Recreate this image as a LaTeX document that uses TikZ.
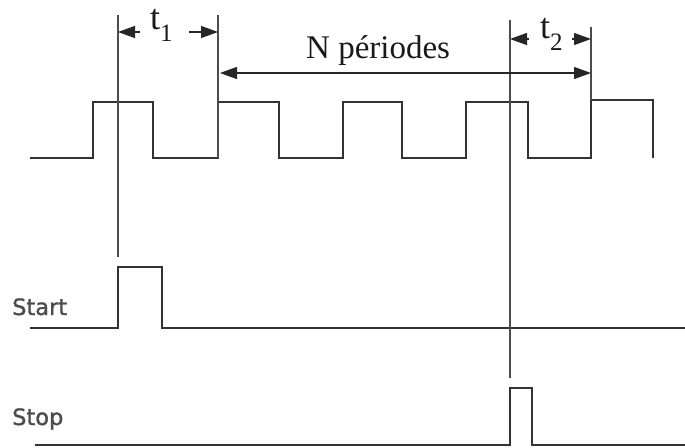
\documentclass[tikz,border=0pt]{standalone}
\usepackage{fontspec}
\setmainfont{Liberation Serif}
\newfontfamily\labfont[FakeBold=1.2]{DejaVu Sans}
\usetikzlibrary{arrows.meta}
\begin{document}
\begin{tikzpicture}[x=1pt,y=-1pt,
  sig/.style={draw=black!80, line width=1.4pt, line join=miter},
  marker/.style={draw=black!70, line width=1.4pt},
  dim/.style={draw=black!85, line width=1.3pt, -{Triangle[length=17pt,width=12pt]}},
  ddim/.style={draw=black!85, line width=1.3pt, {Triangle[length=17pt,width=12pt]}-{Triangle[length=17pt,width=12pt]}},
  big/.style={inner sep=0pt, font=\fontsize{36}{36}\selectfont, text=black!90},
  mid/.style={inner sep=0pt, font=\fontsize{33}{33}\selectfont, text=black!90},
  sname/.style={inner sep=0pt, font=\labfont\fontsize{22.5}{22}\selectfont, text=black!70}]
\useasboundingbox (0,0) rectangle (685,447);
% clock
\draw[sig] (30,158) -- (93,158) -- (93,102) -- (153,102) -- (153,158) -- (218,158) -- (218,102)
  -- (279,102) -- (279,158) -- (343,158) -- (343,102) -- (402,102) -- (402,158) -- (466,158)
  -- (466,102) -- (528,102) -- (528,158) -- (591,158) -- (591,100) -- (653,100) -- (653,158);
% start / stop
\draw[sig] (30,328) -- (118,328) -- (118,267) -- (162,267) -- (162,328) -- (685,328);
\draw[sig] (35,445) -- (510,445) -- (510,388) -- (532,388) -- (532,445) -- (685,445);
% markers
\coordinate (a1) at (118,15); \coordinate (a2) at (118,257);
\coordinate (b1) at (218,15); \coordinate (b2) at (218,158);
\coordinate (c1) at (510,20); \coordinate (c2) at (510,378);
\coordinate (d1) at (591,27); \coordinate (d2) at (591,100);
\draw[marker] (a1) -- (a2);
\draw[marker] (b1) -- (b2);
\draw[marker] (c1) -- (c2);
\draw[marker] (d1) -- (d2);
% labels
\node[big, anchor=base west] (t1) at (150,29) {t\raisebox{-13pt}{\fontsize{25}{25}\selectfont 1}};
\node[big, anchor=base west] (t2) at (540,38) {t\raisebox{-12pt}{\fontsize{25}{25}\selectfont 2}};
\node[mid, anchor=base west] (np) at (306,58) {N périodes};
\node[sname, anchor=base west] (st) at (12,315) {Start};
\node[sname, anchor=base west] (sp) at (12,425) {Stop};
% dimension arrows
\coordinate (t1l) at (140,32); \coordinate (t1lt) at (118,32);
\coordinate (t1r) at (189,32); \coordinate (t1rt) at (218,32);
\coordinate (t2l) at (529,39); \coordinate (t2lt) at (510,39);
\coordinate (t2r) at (572,39); \coordinate (t2rt) at (591,39);
\coordinate (nl) at (220,73); \coordinate (nr) at (591,73);
\draw[dim] (t1l) -- (t1lt);
\draw[dim] (t1r) -- (t1rt);
\draw[dim] (t2l) -- (t2lt);
\draw[dim] (t2r) -- (t2rt);
\draw[ddim] (nl) -- (nr);
\end{tikzpicture}
\end{document}
